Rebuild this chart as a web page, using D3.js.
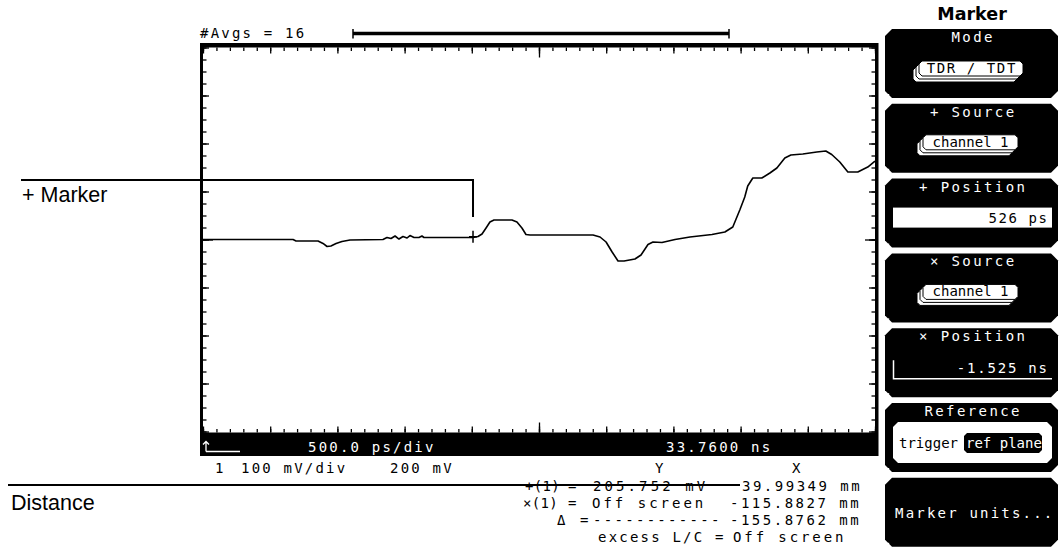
<!DOCTYPE html>
<html>
<head>
<meta charset="utf-8">
<script src="https://cdn.jsdelivr.net/npm/d3@7"></script>
<style>
  html, body { margin: 0; padding: 0; background: #fff; }
  svg { display: block; }
</style>
</head>
<body>
<svg id="chart" width="1061" height="559"></svg>
<script>
// ---------------- data ----------------
// TDR trace: time (ns) and voltage (mV), read from the screen
const traceTime = [31.260, 31.930, 31.952, 32.116, 32.153, 32.183, 32.212, 32.250, 32.294, 32.354,
  32.599, 32.629, 32.659, 32.689, 32.718, 32.748, 32.778, 32.800, 32.830, 32.867, 32.889, 32.904,
  33.269, 33.306, 33.336, 33.366, 33.395, 33.425, 33.559, 33.596, 33.633, 33.663, 33.693,
  34.162, 34.214, 34.259, 34.304, 34.348, 34.393, 34.474, 34.519, 34.571, 34.608, 34.675, 34.772,
  34.883, 35.047, 35.143, 35.202, 35.254, 35.291, 35.313, 35.351, 35.418, 35.478, 35.530, 35.589,
  35.634, 35.723, 35.827, 35.894, 35.938, 35.998, 36.058, 36.132, 36.206, 36.260];
const traceMv = [200.0, 200.0, 196.9, 196.9, 191.7, 185.4, 186.5, 191.7, 195.8, 199.0,
  200.0, 204.2, 202.1, 207.3, 201.0, 206.3, 203.1, 208.3, 204.2, 204.2, 207.3, 204.2,
  204.2, 206.3, 211.5, 224.0, 236.5, 240.6, 240.6, 236.5, 224.0, 210.4, 209.4,
  209.4, 205.2, 194.8, 174.0, 155.2, 155.2, 159.4, 167.7, 189.6, 194.8, 193.8, 200.0,
  205.2, 210.4, 215.6, 226.0, 261.5, 288.5, 311.5, 328.1, 328.1, 338.5, 349.0, 369.8,
  376.0, 378.1, 382.3, 384.4, 377.1, 361.5, 340.6, 340.6, 351.0, 363.5];

// screen settings
const timeCenter = 33.76;      // ns
const timePerDiv = 0.5;        // ns (500 ps/div)
const xDivs = 10;
const mvPerDiv = 100;
const mvOffset = 200;
const yDivs = 8;
const markerTime = 33.269;     // ns
const markerMv = 205.752;      // mV

// text content
const avgsLabel = "#Avgs = 16";
const statusLeft = "500.0 ps/div";
const statusRight = "33.7600 ns";
const chanRow = [["1", 215], ["100 mV/div", 241], ["200 mV", 390], ["Y", 655], ["X", 792]];
const readRows = [
  [["+(1)", 525, 0.3], ["=", 568, 0], ["205.752 mV", 593, 3.1], ["39.99349 mm", 742, 2.5]],
  [["\u00D7(1)", 523, 0.3], ["=", 568, 0], ["Off screen", 592, 3.0], ["-115.8827 mm", 730, 2.5]],
  [["\u0394", 557, 0], ["=", 580, 0], ["------------", 593, 2.3], ["-155.8762 mm", 730, 2.5]],
  [["excess L/C =", 598, 2.2], ["Off screen", 733, 2.9]]
];
const softTitles = ["Mode", "+ Source", "+ Position", "\u00D7 Source", "\u00D7 Position", "Reference", ""];

// ---------------- drawing ----------------
const svg = d3.select("#chart");
const MONO = "'DejaVu Sans Mono', 'Liberation Mono', monospace";
const SANS = "'Liberation Sans', Arial, sans-serif";

const L = 203, R = 875, T = 47.5, B = 431.5;
const x = d3.scaleLinear()
  .domain([timeCenter - timePerDiv * xDivs / 2, timeCenter + timePerDiv * xDivs / 2])
  .range([L, R]);
const y = d3.scaleLinear()
  .domain([mvOffset - mvPerDiv * yDivs / 2, mvOffset + mvPerDiv * yDivs / 2])
  .range([B, T]);

function monoText(g, str, px, py, fill, anchor, ls) {
  const spacing = ls === undefined ? 2.2 : ls;
  return g.append("text").attr("x", px).attr("y", py)
    .attr("font-family", MONO).attr("font-size", 14)
    .attr("letter-spacing", spacing)
    .attr("dx", anchor === "end" ? spacing : (anchor === "middle" ? spacing / 2 : 0))
    .attr("fill", fill || "#000")
    .attr("text-anchor", anchor || "start")
    .attr("xml:space", "preserve")
    .text(str);
}

// top label + record bar
monoText(svg, avgsLabel, 200, 38);
svg.append("line").attr("x1", 353).attr("x2", 729).attr("y1", 33.5).attr("y2", 33.5)
  .attr("stroke", "#000").attr("stroke-width", 3.5);
[353, 729].forEach(v => svg.append("line").attr("x1", v).attr("x2", v).attr("y1", 29).attr("y2", 38.5)
  .attr("stroke", "#000").attr("stroke-width", 1.5));

// frame and status bar
svg.append("rect").attr("x", 200).attr("y", 43).attr("width", 678.5).attr("height", 413).attr("fill", "#000");
svg.append("rect").attr("x", L).attr("y", T).attr("width", R - L).attr("height", B - T + 1).attr("fill", "#fff");

// ticks via axes
const xMinor = d3.range(0, xDivs * 5 + 1).map(i => x.domain()[0] + i * timePerDiv / 5);
const xMajor = d3.range(0, xDivs + 1).map(i => x.domain()[0] + i * timePerDiv);
const yMinor = d3.range(0, yDivs * 4 + 1).map(i => y.domain()[0] + i * mvPerDiv / 4);
const yMajor = d3.range(0, yDivs + 1).map(i => y.domain()[0] + i * mvPerDiv);

function tickLayer(axisFn, scale, vals, size, transform) {
  const g = svg.append("g").attr("transform", transform)
    .call(axisFn(scale).tickValues(vals).tickSize(size).tickFormat(""));
  g.select(".domain").remove();
  g.selectAll(".tick line").attr("stroke", "#000").attr("stroke-width", 1.3);
}
[[xMinor, 3.5], [xMajor, 6], [[timeCenter], 10]].forEach(([v, s]) => {
  tickLayer(d3.axisBottom, x, v, s, `translate(0,${T})`);
  tickLayer(d3.axisTop, x, v, s, `translate(0,${B + 1})`);
});
[[yMinor, 3.5], [yMajor, 6], [[mvOffset], 10]].forEach(([v, s]) => {
  tickLayer(d3.axisRight, y, v, s, `translate(${L},0)`);
  tickLayer(d3.axisLeft, y, v, s, `translate(${R},0)`);
});

// trace
const pts = traceTime.map((t, i) => [t, traceMv[i]]);
svg.append("path").datum(pts)
  .attr("d", d3.line().x(d => x(d[0])).y(d => y(d[1])))
  .attr("fill", "none").attr("stroke", "#000").attr("stroke-width", 1.6)
  .attr("stroke-linejoin", "round");

// marker cross
const mx = x(markerTime), my = y(markerMv);
svg.append("path").attr("d", `M${mx},${my - 6}V${my + 6}M${mx - 4},${my}H${mx + 4}`)
  .attr("stroke", "#000").attr("stroke-width", 1.5).attr("fill", "none");

// status bar text
const arrowX = 206, arrowY = 451.5;
svg.append("path").attr("d", `M${arrowX},${arrowY}V${arrowY - 10}M${arrowX - 3},${arrowY - 7}L${arrowX},${arrowY - 10}L${arrowX + 3},${arrowY - 7}M${arrowX},${arrowY}H240`)
  .attr("stroke", "#fff").attr("stroke-width", 1.3).attr("fill", "none");
monoText(svg, statusLeft, 308, 452, "#fff");
monoText(svg, statusRight, 666, 452, "#fff");

chanRow.forEach(([s, px]) => monoText(svg, s, px, 473));
readRows.forEach((row, i) => row.forEach(([s, px, ls]) => monoText(svg, s, px, 491 + i * 17, "#000", "start", ls)));

// annotations
svg.append("path").attr("d", `M21,180H${mx}V217`).attr("stroke", "#000").attr("stroke-width", 2).attr("fill", "none");
svg.append("text").attr("x", 22).attr("y", 202).attr("font-family", SANS).attr("font-size", 21.5)
  .attr("xml:space", "preserve").text("+ Marker");
svg.append("line").attr("x1", 8).attr("x2", 740).attr("y1", 485).attr("y2", 485)
  .attr("stroke", "#000").attr("stroke-width", 2);
svg.append("text").attr("x", 11).attr("y", 510).attr("font-family", SANS).attr("font-size", 21.5).text("Distance");

// ---------------- softkey panel ----------------
function chamfer(px, py, w, h, c) {
  return `M${px + c},${py}H${px + w - c}L${px + w},${py + c}V${py + h - c}L${px + w - c},${py + h}H${px + c}L${px},${py + h - c}V${py + c}Z`;
}
svg.append("text").attr("x", 972).attr("y", 20).attr("text-anchor", "middle")
  .attr("font-family", "'DejaVu Sans', sans-serif").attr("font-weight", "bold").attr("font-size", 17.5).text("Marker");

const kx = 885, kw = 173, kh = 69;
const tops = softTitles.map((_, i) => 29 + i * 74.8);
tops.forEach((ty, i) => {
  svg.append("path").attr("d", chamfer(kx, ty, kw, kh, 7)).attr("fill", "#000");
  svg.append("rect").attr("x", kx + 3).attr("y", ty + kh - 4).attr("width", 1.2).attr("height", 1.2).attr("fill", "#fff");
  if (softTitles[i]) monoText(svg, softTitles[i], 972, ty + 13, "#fff", "middle", 2.4);
});

function stackButton(bx, by, w, h, label, ls) {
  [2, 1].forEach(k => {
    svg.append("path").attr("d", chamfer(bx - 3 * k, by + 3 * k, w, h, 3)).attr("fill", "#fff").attr("stroke", "#000").attr("stroke-width", 1);
  });
  svg.append("path").attr("d", chamfer(bx, by, w, h, 3)).attr("fill", "#fff").attr("stroke", "#000").attr("stroke-width", 1);
  monoText(svg, label, bx + w / 2, by + h - 3, "#000", "middle", ls);
}
stackButton(919, tops[0] + 32, 104, 15, "TDR / TDT", 1.6);
stackButton(923, tops[1] + 31, 95, 15, "channel 1", 0);
stackButton(923, tops[3] + 31, 95, 15, "channel 1", 0);

// + Position field
svg.append("rect").attr("x", 893).attr("y", tops[2] + 29).attr("width", 159).attr("height", 20).attr("fill", "#fff");
monoText(svg, "526 ps", 1047, tops[2] + 44, "#000", "end", 1.6);

// x Position field
svg.append("path").attr("d", `M893.5,${tops[4] + 32}V${tops[4] + 50.5}H1052`).attr("stroke", "#fff").attr("stroke-width", 1.5).attr("fill", "none");
monoText(svg, "-1.525 ns", 1047, tops[4] + 45, "#fff", "end", 1.8);

// Reference selector
svg.append("path").attr("d", chamfer(893, tops[5] + 19, 159, 41, 5)).attr("fill", "#fff");
monoText(svg, "trigger", 899, tops[5] + 45, "#000", "start", 0);
svg.append("path").attr("d", chamfer(964, tops[5] + 30, 78, 20, 3)).attr("fill", "#000");
monoText(svg, "ref plane", 966, tops[5] + 45, "#fff", "start", 0);

// Marker units
monoText(svg, "Marker units...", 895, tops[6] + 40, "#fff", "start", 2.2);
</script>
</body>
</html>
